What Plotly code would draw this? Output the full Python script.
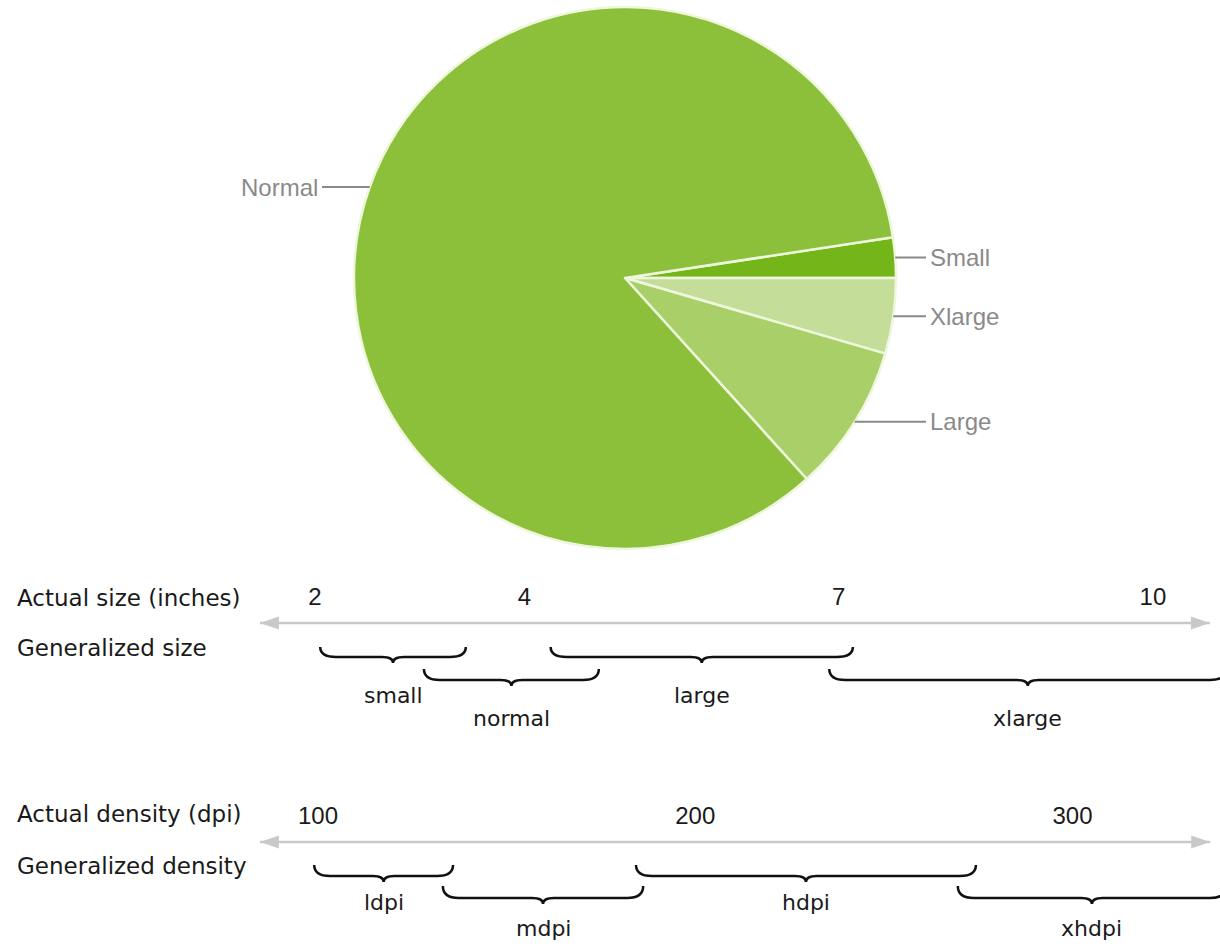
import math
import plotly.graph_objects as go

# ---------------- data ----------------
pie_labels = ["Small", "Xlarge", "Large", "Normal"]
pie_values = [2.4, 4.5, 8.8, 84.3]
pie_colors = ["#74b51a", "#c4de9a", "#a8cf68", "#8cbf3a"]

size_ticks = [2, 4, 7, 10]
size_tick_text = ["2", "4", "7", "10"]
size_arrow = [1.475, 10.544]
size_names = ["small", "normal", "large", "xlarge"]
size_start = [2.05, 3.04, 4.25, 6.91]
size_end = [3.44, 4.71, 7.135, 10.70]
size_row = [0, 1, 0, 1]

density_ticks = [100, 200, 300]
density_tick_text = ["100", "200", "300"]
density_arrow = [84.6, 336.5]
density_names = ["ldpi", "mdpi", "hdpi", "xhdpi"]
density_start = [99.0, 133.1, 184.3, 269.6]
density_end = [135.8, 186.2, 274.4, 340.7]
density_row = [0, 1, 0, 1]

row_titles = ["Actual size (inches)", "Generalized size",
              "Actual density (dpi)", "Generalized density"]

# ---------------- layout constants ----------------
W, H = 1220, 944
size_range = [-1.007, 10.64]
density_range = [15.71, 339.1]

PIE_CX, PIE_CY, PIE_R = 625, 278, 271
WORD_FONT = "DejaVu Sans"
NUM_FONT = "Liberation Sans, Arial, sans-serif"
TXT = "#1a1a1a"
GREY = "#8a8a8a"
ARROW_C = "#c9c9c9"

# vertical positions (pixels from top, y axis is in pixels)
SIZE_AXIS_Y = 623
DENS_AXIS_Y = 842
row_title_y = [598, 648, 814, 866]
size_tip = [647, 669]
size_line = [657, 680]
size_label_y = [695, 718]
dens_tip = [865, 886]
dens_line = [876, 898]
dens_label_y = [902, 928]

fig = go.Figure()

# ---------------- pie ----------------
total = sum(pie_values)
rotation = 90 - pie_values[0] / total * 360
fig.add_trace(go.Pie(
    labels=pie_labels, values=pie_values, sort=False, direction="clockwise",
    rotation=rotation, textinfo="none", hoverinfo="label+percent",
    marker=dict(colors=pie_colors, line=dict(color="#eef7dc", width=2.5)),
    domain=dict(x=[(PIE_CX - PIE_R) / W, (PIE_CX + PIE_R) / W],
                y=[1 - (PIE_CY + PIE_R) / H, 1 - (PIE_CY - PIE_R) / H]),
    showlegend=False,
))

# leader-line labels computed from the slice mid angles
annotations = []
cum = 0.0
for lab, v in zip(pie_labels, pie_values):
    mid = rotation + (cum + v / 2) / total * 360
    cum += v
    th = math.radians(mid)
    ex = PIE_CX + PIE_R * math.sin(th)
    ey = PIE_CY - PIE_R * math.cos(th)
    right = math.sin(th) > 0
    tail_x = 926 if right else 322
    annotations.append(dict(
        x=ex / W, y=1 - ey / H, xref="paper", yref="paper",
        text=lab, showarrow=True, arrowhead=0, arrowwidth=2, arrowcolor=GREY,
        ax=tail_x - ex, ay=0, xanchor="left" if right else "right",
        yanchor="middle", borderpad=3, standoff=0, startstandoff=0,
        font=dict(family=NUM_FONT, size=24, color=GREY),
    ))

# ---------------- axes lines (arrows) ----------------
fig.add_trace(go.Scatter(x=size_arrow, y=[SIZE_AXIS_Y] * 2, xaxis="x", yaxis="y",
                         mode="lines", line=dict(color=ARROW_C, width=2.5),
                         hoverinfo="skip", showlegend=False))
fig.add_trace(go.Scatter(x=density_arrow, y=[DENS_AXIS_Y] * 2, xaxis="x2", yaxis="y",
                         mode="lines", line=dict(color=ARROW_C, width=2.5),
                         hoverinfo="skip", showlegend=False))

shapes = []
for xref, rng, yy in [("x", size_arrow, SIZE_AXIS_Y), ("x2", density_arrow, DENS_AXIS_Y)]:
    for xa, d in [(rng[0], 1), (rng[1], -1)]:
        shapes.append(dict(
            type="path", xref=xref, yref="y", xsizemode="pixel", ysizemode="pixel",
            xanchor=xa, yanchor=yy,
            path=f"M0,0 L{19 * d},6.5 L{19 * d},-6.5 Z",
            fillcolor=ARROW_C, line=dict(width=0),
        ))


def brace_path(x0, x1, y_tip, y_line, ppu, rx_px=16, rm_px=11, dip=6):
    rx = rx_px / ppu
    rm = rm_px / ppu
    xm = (x0 + x1) / 2
    yp = y_line + dip
    return (f"M{x0},{y_tip} Q{x0},{y_line} {x0 + rx},{y_line} "
            f"L{xm - rm},{y_line} Q{xm},{y_line} {xm},{yp} "
            f"Q{xm},{y_line} {xm + rm},{y_line} L{x1 - rx},{y_line} "
            f"Q{x1},{y_line} {x1},{y_tip}")


size_ppu = W / (size_range[1] - size_range[0])
dens_ppu = W / (density_range[1] - density_range[0])

for names, starts, ends, rows, xref, ppu, tips, lines, laby in [
    (size_names, size_start, size_end, size_row, "x", size_ppu, size_tip, size_line, size_label_y),
    (density_names, density_start, density_end, density_row, "x2", dens_ppu, dens_tip, dens_line, dens_label_y),
]:
    for nm, s, e, r in zip(names, starts, ends, rows):
        shapes.append(dict(type="path", xref=xref, yref="y",
                           path=brace_path(s, e, tips[r], lines[r], ppu),
                           line=dict(color="#111111", width=2.5)))
        annotations.append(dict(x=(s + e) / 2, y=laby[r], xref=xref, yref="y",
                                text=nm, showarrow=False, xanchor="center", yanchor="middle",
                                font=dict(family=WORD_FONT, size=22, color=TXT)))

for t, yy in zip(row_titles, row_title_y):
    annotations.append(dict(x=15 / W, y=yy, xref="paper", yref="y", text=t,
                            showarrow=False, xanchor="left", yanchor="middle",
                            font=dict(family=WORD_FONT, size=23, color=TXT)))

axis_common = dict(showgrid=False, zeroline=False, showline=False, ticks="",
                   fixedrange=True, side="top", anchor="free", domain=[0, 1],
                   tickfont=dict(family=NUM_FONT, size=24, color=TXT),
                   ticklabelstandoff=13)

fig.update_layout(
    width=W, height=H, margin=dict(l=0, r=0, t=0, b=0),
    paper_bgcolor="white", plot_bgcolor="rgba(0,0,0,0)",
    xaxis=dict(range=size_range, tickvals=size_ticks, ticktext=size_tick_text,
               position=1 - SIZE_AXIS_Y / H, **axis_common),
    xaxis2=dict(range=density_range, tickvals=density_ticks, ticktext=density_tick_text,
                position=1 - DENS_AXIS_Y / H, overlaying="x", **axis_common),
    yaxis=dict(range=[H, 0], domain=[0, 1], visible=False, fixedrange=True),
    shapes=shapes, annotations=annotations,
)

fig.write_html("out.html", config={"displayModeBar": False},
               post_script="document.body.style.margin='0';")
